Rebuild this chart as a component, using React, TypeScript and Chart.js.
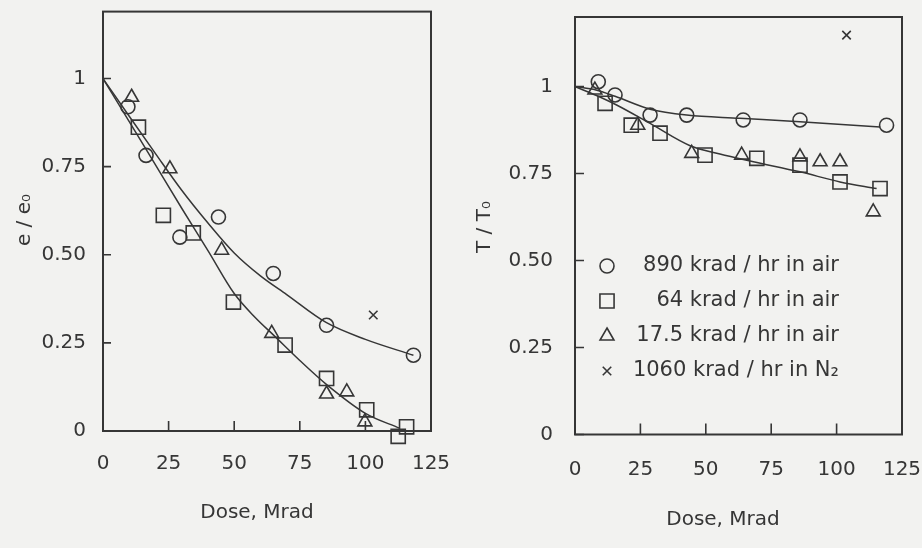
import React, { useEffect, useRef } from 'react';
import { Chart, registerables } from 'chart.js';
import { drawPoint } from 'chart.js/helpers';

Chart.register(...registerables);

// ---------- data ----------
const xTickValues = [0, 25, 50, 75, 100, 125];
const xTickLabels = ['0', '25', '50', '75', '100', '125'];
const yTickValues = [0, 0.25, 0.5, 0.75, 1];
const yTickLabels = ['0', '0.25', '0.50', '0.75', '1'];

const seriesLabels = [
  '890 krad / hr in air',
  '64 krad / hr in air',
  '17.5 krad / hr in air',
  '1060 krad / hr in N₂',
];

// Left panel: e / e0
const leftCircleX = [9.5, 16.4, 29.3, 44, 64.9, 85.2, 118.3];
const leftCircleY = [0.92, 0.782, 0.55, 0.607, 0.447, 0.3, 0.215];
const leftSquareX = [13.5, 23, 34.4, 49.7, 69.4, 85.2, 100.5, 112.5, 115.7];
const leftSquareY = [0.862, 0.612, 0.562, 0.366, 0.244, 0.149, 0.06, -0.015, 0.012];
const leftTriangleX = [10.9, 25.5, 45.2, 64.3, 85.2, 92.9, 99.8];
const leftTriangleY = [0.947, 0.744, 0.513, 0.277, 0.105, 0.111, 0.026];
const leftCrossX = [103];
const leftCrossY = [0.329];
const leftUpperCurveX = [0, 10, 20, 30, 40, 50, 60, 70, 85, 100, 118.3];
const leftUpperCurveY = [1.0, 0.893, 0.787, 0.683, 0.59, 0.505, 0.44, 0.387, 0.308, 0.26, 0.215];
const leftLowerCurveX = [0, 10, 20, 30, 40, 50, 58, 65, 75, 85, 100, 113];
const leftLowerCurveY = [1.0, 0.878, 0.755, 0.632, 0.512, 0.39, 0.322, 0.272, 0.2, 0.133, 0.05, 0.008];

// Right panel: T / T0
const rightCircleX = [8.9, 15.3, 28.7, 42.7, 64.3, 86, 119.1];
const rightCircleY = [1.014, 0.976, 0.918, 0.918, 0.904, 0.904, 0.889];
const rightSquareX = [11.5, 21.5, 32.5, 49.7, 69.5, 86, 101.3, 116.6];
const rightSquareY = [0.952, 0.889, 0.866, 0.803, 0.794, 0.774, 0.726, 0.707];
const rightTriangleX = [7.6, 24, 44.6, 63.7, 86, 93.7, 101.3, 114];
const rightTriangleY = [0.99, 0.889, 0.808, 0.803, 0.798, 0.784, 0.784, 0.64];
const rightCrossX = [103.8];
const rightCrossY = [1.148];
const rightUpperCurveX = [0, 8, 15.3, 28.7, 42.7, 63, 86, 116.6];
const rightUpperCurveY = [1.0, 0.99, 0.972, 0.935, 0.918, 0.909, 0.899, 0.884];
const rightLowerCurveX = [0, 8, 15.9, 28.7, 44, 55.4, 68.2, 86, 101.3, 115.3];
const rightLowerCurveY = [1.0, 0.975, 0.947, 0.894, 0.83, 0.806, 0.784, 0.755, 0.726, 0.707];

// ---------- styling ----------
const INK = '#363636';
const BG = '#f2f2f0';
const FONT = 'DejaVu Sans';
const FONT_SIZE = 20;

Chart.defaults.font.family = FONT;
Chart.defaults.font.size = FONT_SIZE;
Chart.defaults.color = INK;

const pts = (xs: number[], ys: number[]) => xs.map((x, i) => ({ x, y: ys[i] }));

const marker = (label: string, xs: number[], ys: number[], style: string, radius: number) => ({
  label,
  data: pts(xs, ys),
  pointStyle: style,
  pointRadius: radius,
  pointHoverRadius: radius,
  pointBorderColor: INK,
  pointBackgroundColor: 'rgba(0,0,0,0)',
  pointBorderWidth: 1.6,
  showLine: false,
  clip: false,
  isMarker: true,
});

const curve = (label: string, xs: number[], ys: number[]) => ({
  label,
  data: pts(xs, ys),
  showLine: true,
  borderColor: INK,
  borderWidth: 1.5,
  pointRadius: 0,
  cubicInterpolationMode: 'monotone',
  fill: false,
  clip: false,
  isMarker: false,
});

const zeroPad = (s: any) => {
  s.paddingTop = 0;
  s.paddingBottom = 0;
  s.paddingLeft = 0;
  s.paddingRight = 0;
};

const framePlugin = {
  id: 'frame',
  afterDraw(chart: any, _args: any, opts: any) {
    const { ctx, chartArea: a, scales } = chart;
    ctx.save();
    ctx.strokeStyle = INK;
    ctx.lineWidth = 2;
    ctx.strokeRect(a.left, a.top, a.right - a.left, a.bottom - a.top);
    ctx.lineWidth = 1.6;
    ctx.beginPath();
    scales.x.ticks.forEach((t: any) => {
      const px = scales.x.getPixelForValue(t.value);
      ctx.moveTo(px, a.bottom);
      ctx.lineTo(px, a.bottom - opts.xTickLen);
    });
    scales.y.ticks.forEach((t: any) => {
      const py = scales.y.getPixelForValue(t.value);
      ctx.moveTo(a.left, py);
      ctx.lineTo(a.left + opts.yTickLen, py);
    });
    ctx.stroke();

    ctx.fillStyle = INK;
    ctx.font = `${FONT_SIZE}px "${FONT}"`;
    ctx.textAlign = 'center';
    ctx.textBaseline = 'middle';
    ctx.fillText(opts.xTitle, opts.xTitleX, opts.xTitleY);
    ctx.save();
    ctx.translate(opts.yTitleX, opts.yTitleY);
    ctx.rotate(-Math.PI / 2);
    ctx.fillText(opts.yTitle, 0, 0);
    ctx.restore();

    if (opts.legend) {
      const L = opts.legend;
      const markers = chart.data.datasets.filter((d: any) => d.isMarker);
      markers.forEach((d: any, i: number) => {
        const y = L.y0 + i * L.step;
        ctx.strokeStyle = INK;
        ctx.fillStyle = 'rgba(0,0,0,0)';
        ctx.lineWidth = 1.6;
        drawPoint(ctx, { pointStyle: d.pointStyle, radius: d.pointRadius, rotation: 0, borderWidth: 1.6 } as any, L.markerX, y);
        ctx.fillStyle = INK;
        ctx.textAlign = 'right';
        ctx.textBaseline = 'middle';
        ctx.font = `${L.fontSize}px "${FONT}"`;
        ctx.fillText(d.label, L.textRight, y);
      });
    }
    ctx.restore();
  },
};

type PanelCfg = {
  datasets: any[];
  yMax: number;
  yAxisWidth: number;
  xAxisHeight: number;
  padTop: number;
  padRight: number;
  yLabelPad: number;
  xLabelPad: number;
  frame: any;
};

function Panel({ cfg }: { cfg: PanelCfg }) {
  const ref = useRef<HTMLCanvasElement | null>(null);
  useEffect(() => {
    if (!ref.current) return;
    const chart = new Chart(ref.current, {
      type: 'scatter',
      data: { datasets: cfg.datasets },
      plugins: [framePlugin],
      options: {
        animation: false,
        responsive: false,
        devicePixelRatio: 1,
        layout: { padding: { top: cfg.padTop, right: cfg.padRight, left: 0, bottom: 0 } },
        plugins: {
          legend: { display: false },
          tooltip: { enabled: false },
          frame: cfg.frame,
        } as any,
        scales: {
          x: {
            type: 'linear',
            min: 0,
            max: 125,
            afterBuildTicks: (s: any) => {
              s.ticks = xTickValues.map((v) => ({ value: v }));
            },
            afterFit: (s: any) => {
              s.height = cfg.xAxisHeight;
              zeroPad(s);
            },
            ticks: {
              callback: (_v: any, i: number) => xTickLabels[i],
              padding: cfg.xLabelPad,
              color: INK,
              maxRotation: 0,
              autoSkip: false,
              font: { size: FONT_SIZE, family: FONT },
            },
            grid: { display: false, drawTicks: false },
            border: { display: false },
          },
          y: {
            type: 'linear',
            min: 0,
            max: cfg.yMax,
            afterBuildTicks: (s: any) => {
              s.ticks = yTickValues.map((v) => ({ value: v }));
            },
            afterFit: (s: any) => {
              s.width = cfg.yAxisWidth;
              zeroPad(s);
            },
            ticks: {
              callback: (_v: any, i: number) => yTickLabels[i],
              padding: cfg.yLabelPad,
              color: INK,
              autoSkip: false,
              font: { size: FONT_SIZE, family: FONT },
            },
            grid: { display: false, drawTicks: false },
            border: { display: false },
          },
        },
      } as any,
    });
    return () => chart.destroy();
  }, [cfg]);
  return <canvas ref={ref} width={461} height={548} style={{ display: 'block', width: 461, height: 548 }} />;
}

const leftCfg: PanelCfg = {
  datasets: [
    marker(seriesLabels[0], leftCircleX, leftCircleY, 'circle', 7),
    marker(seriesLabels[1], leftSquareX, leftSquareY, 'rect', 10),
    marker(seriesLabels[2], leftTriangleX, leftTriangleY, 'triangle', 8),
    marker(seriesLabels[3], leftCrossX, leftCrossY, 'crossRot', 6),
    curve('fit, 890 krad / hr', leftUpperCurveX, leftUpperCurveY),
    curve('fit, 64 & 17.5 krad / hr', leftLowerCurveX, leftLowerCurveY),
  ],
  yMax: 1.19,
  yAxisWidth: 103,
  xAxisHeight: 117,
  padTop: 11,
  padRight: 30,
  yLabelPad: 17,
  xLabelPad: 21,
  frame: {
    xTitle: 'Dose, Mrad',
    xTitleX: 257,
    xTitleY: 513,
    yTitle: 'e / e₀',
    yTitleX: 25,
    yTitleY: 220,
    xTickLen: 10,
    yTickLen: 8,
  },
};

const rightCfg: PanelCfg = {
  datasets: [
    marker(seriesLabels[0], rightCircleX, rightCircleY, 'circle', 7),
    marker(seriesLabels[1], rightSquareX, rightSquareY, 'rect', 10),
    marker(seriesLabels[2], rightTriangleX, rightTriangleY, 'triangle', 8),
    marker(seriesLabels[3], rightCrossX, rightCrossY, 'crossRot', 6),
    curve('fit, 890 krad / hr', rightUpperCurveX, rightUpperCurveY),
    curve('fit, 64 & 17.5 krad / hr', rightLowerCurveX, rightLowerCurveY),
  ],
  yMax: 1.2,
  yAxisWidth: 114,
  xAxisHeight: 113.5,
  padTop: 17,
  padRight: 20,
  yLabelPad: 22,
  xLabelPad: 23,
  frame: {
    xTitle: 'Dose, Mrad',
    xTitleX: 262,
    xTitleY: 520,
    yTitle: 'T / T₀',
    yTitleX: 24,
    yTitleY: 227,
    xTickLen: 11,
    yTickLen: 9,
    legend: { markerX: 146, y0: 266, step: 35, textRight: 378, fontSize: 21 },
  },
};

export default function App() {
  return (
    <div
      style={{
        position: 'fixed',
        left: 0,
        top: 0,
        width: 922,
        height: 548,
        background: BG,
        display: 'flex',
        overflow: 'hidden',
      }}
    >
      <Panel cfg={leftCfg} />
      <Panel cfg={rightCfg} />
    </div>
  );
}
